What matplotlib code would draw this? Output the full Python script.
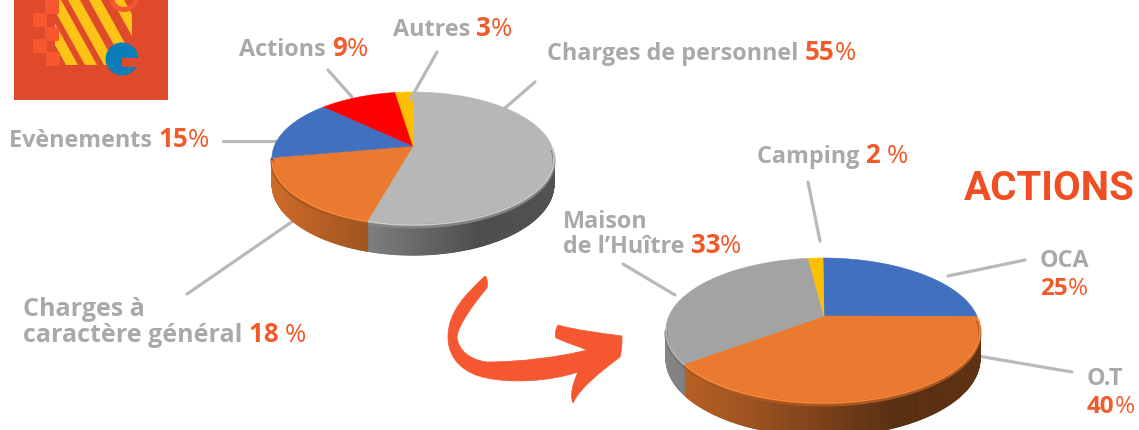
import numpy as np
import matplotlib
matplotlib.use('Agg')
import matplotlib.pyplot as plt
from matplotlib.patches import Polygon, Rectangle, Circle, PathPatch, Wedge
from matplotlib.path import Path

# slice shares as drawn in the picture (clockwise from 12 o'clock)
main_names = ['Charges de personnel', 'Charges à caractère général', 'Evènements', 'Actions', 'Autres']
main_shares = [55.2, 19.9, 14.0, 8.9, 2.0]
main_colors = ['#b7b7b7', '#e97a2f', '#4270c0', '#fe0000', '#fdbf00']

actions_names = ['OCA', 'O.T', 'Maison de l\'Huître', 'Camping']
actions_shares = [22.0, 45.2, 31.3, 1.5]
actions_colors = ['#4270c0', '#e97a2f', '#a3a3a3', '#fdbf00']

GREY = '#a9a9a9'
ORANGE = '#f15a29'
FONT = 'Open Sans'

fig = plt.figure(figsize=(11.39, 4.30), dpi=100)
ax = fig.add_axes([0, 0, 1, 1])
ax.set_xlim(0, 1139)
ax.set_ylim(430, 0)
ax.axis('off')


def shade(color, f):
    c = np.array(matplotlib.colors.to_rgb(color))
    return tuple(np.clip(c * f, 0, 1))


def ell(cx, cy, rx, ry, t):
    # t in degrees, clockwise from top
    t = np.radians(t)
    return cx + rx * np.sin(t), cy - ry * np.cos(t)


def draw_pie(shares, colors, cx, cy, rx, ry, apex, depth, light, mid, dark):
    edges = np.cumsum([0] + list(shares)) * 3.6
    # side wall, thin strips along the front of the ellipse
    for i, col in enumerate(colors):
        lo, hi = max(edges[i], 90), min(edges[i + 1], 270)
        if lo >= hi:
            continue
        ts = np.linspace(lo, hi, int(hi - lo) * 2 + 2)
        for t0, t1 in zip(ts[:-1], ts[1:]):
            x0, y0 = ell(cx, cy, rx, ry, t0)
            x1, y1 = ell(cx, cy, rx, ry, t1)
            u = (x0 + x1) / 2
            f = np.interp(u, [cx - rx, cx - 0.3 * rx, cx + 0.45 * rx, cx + rx], [light, mid, dark, dark + 0.03])
            # front of the wall looks a bit deeper than its ends
            d0 = depth * (0.88 - 0.16 * np.cos(np.radians(t0)))
            d1 = depth * (0.88 - 0.16 * np.cos(np.radians(t1)))
            ax.add_patch(Polygon([(x0, y0), (x1, y1), (x1, y1 + d1), (x0, y0 + d0)],
                                 closed=True, fc=shade(col, f), ec=shade(col, f), lw=0.6, zorder=2))
    # top face
    for i, col in enumerate(colors):
        ts = np.linspace(edges[i], edges[i + 1], 120)
        xs, ys = ell(cx, cy, rx, ry, ts)
        pts = [apex] + list(zip(xs, ys))
        ax.add_patch(Polygon(pts, closed=True, fc=col, ec=col, lw=0.4, zorder=3))
    # bevel along the front rim
    for i, col in enumerate(colors):
        lo, hi = max(edges[i], 80), min(edges[i + 1], 272)
        if lo >= hi:
            continue
        ts = np.linspace(lo, hi, 80)
        xs, ys = ell(cx, cy, rx, ry, ts)
        for off, lw, f in [(3.0, 3.0, 0.72), (1.0, 1.6, 1.12)]:
            ax.plot(xs, ys + off, color=shade(col, f), lw=lw * 0.72, zorder=4, solid_capstyle='butt')


def runs(x, y, parts, grey_size=16.8, num_size=18.6):
    # several text runs on one baseline, each starting where the last one ended
    r = fig.canvas.get_renderer()
    for s, col, w in parts:
        size = grey_size if col == GREY else num_size
        t = ax.text(x, y, s, color=col, fontsize=size, fontweight=w, family=FONT, va='baseline', ha='left', zorder=6)
        box = t.get_window_extent(r)
        x = ax.transData.inverted().transform((box.x1, 0))[0]


# logo
ax.add_patch(Rectangle((14, 0), 154, 100, fc='#df4b2a', ec='none', zorder=1))
clip = Rectangle((55, 0), 77, 65, transform=ax.transData)
for x0 in [30, 49, 68, 89, 112]:
    stripe = ax.add_patch(Polygon([(x0, 0), (x0 + 12, 0), (x0 + 48, 65), (x0 + 36, 65)], closed=True,
                                  fc='#fdc316', ec='none', zorder=1.5))
    stripe.set_clip_path(clip)
for sx, sy in [(45, 0), (33, 13), (45, 27), (33, 39), (46, 52)]:
    ax.add_patch(Rectangle((sx, sy), 14, 13.5, fc='#f7562f', ec='none', zorder=1.6))
ax.add_patch(Wedge((124, -3), 15, 0, 180, width=5, fc='#f7562f', ec='none', zorder=1.7))
ax.add_patch(Circle((122, 59), 16.5, fc='#0b7db8', ec='none', zorder=1.8))
ax.add_patch(Rectangle((122, 58), 17, 9, fc='#df4b2a', ec='none', zorder=1.9))

# leader lines, under the pies
leaders = [((328, 70), (352, 97)), ((437, 52), (410, 100)), ((535, 82), (505, 108)),
           ((223, 141), (276, 141)), ((187, 294), (293, 221)), ((808, 182), (820, 241)),
           ((623, 264), (675, 295)), ((948, 276), (1025, 260)), ((978, 356), (1072, 372))]
for (a, b) in leaders[:1] + leaders[2:]:
    ax.plot([a[0], b[0]], [a[1], b[1]], color='#b9b9b9', lw=2.3, zorder=1, solid_capstyle='round')

draw_pie(main_shares, main_colors, 413, 158, 141, 66, (413, 146), 30, 0.88, 0.68, 0.42)
draw_pie(actions_shares, actions_colors, 823, 330, 157, 72, (824, 316), 33, 0.82, 0.62, 0.38)
a, b = leaders[1]
ax.plot([a[0], b[0]], [a[1], b[1]], color='#b9b9b9', lw=2.3, zorder=5, solid_capstyle='round')

# hand drawn arrow
start = (485, 276)
segments = [
    [(465, 295), (448, 312), (448, 337)],
    [(448, 360), (465, 374), (487, 378)],
    [(510, 383), (548, 382), (578, 372)],
    [(572, 385), (570, 396), (573, 403)],
    [(580, 388), (600, 372), (620, 357)],
    [(622, 350), (622, 343), (622, 336)],
    [(600, 333), (575, 330), (558, 325)],
    [(555, 330), (555, 335), (556, 338)],
    [(570, 344), (580, 347), (587, 350)],
    [(560, 357), (520, 362), (487, 362)],
    [(470, 360), (458, 350), (457, 337)],
    [(458, 325), (475, 302), (487, 288)],
    [(488, 282), (487, 277), (485, 276)],
]
arrow_pts = [start]
codes = [Path.MOVETO]
for seg in segments:
    arrow_pts += seg
    codes += [Path.CURVE4] * 3
ax.add_patch(PathPatch(Path(arrow_pts, codes), fc='#f55731', ec='#f55731', lw=0.5, zorder=2))

# labels
runs(393, 36, [('Autres ', GREY, 'bold'), ('3', ORANGE, 'bold'), ('%', ORANGE, 'normal')])
runs(239, 56, [('Actions ', GREY, 'bold'), ('9', ORANGE, 'bold'), ('%', ORANGE, 'normal')])
runs(547, 60, [('Charges de personnel ', GREY, 'bold'), ('55', ORANGE, 'bold'), ('%', ORANGE, 'normal')])
runs(9, 147, [('Evènements ', GREY, 'bold'), ('15', ORANGE, 'bold'), ('%', ORANGE, 'normal')])
runs(23, 316, [('Charges à', GREY, 'bold')], grey_size=18)
runs(23, 342, [('caractère général ', GREY, 'bold'), ('18 ', ORANGE, 'bold'), ('%', ORANGE, 'normal')], grey_size=18)
runs(757, 163, [('Camping ', GREY, 'bold'), ('2 ', ORANGE, 'bold'), ('%', ORANGE, 'normal')])
runs(563, 228, [('Maison', GREY, 'bold')])
runs(563, 253, [('de l’Huître ', GREY, 'bold'), ('33', ORANGE, 'bold'), ('%', ORANGE, 'normal')])
runs(1040, 267, [('OCA', GREY, 'bold')])
runs(1040, 295, [('25', ORANGE, 'bold'), ('%', ORANGE, 'normal')], num_size=17.5)
runs(1087, 385, [('O.T', GREY, 'bold')])
runs(1087, 413, [('40', ORANGE, 'bold'), ('%', ORANGE, 'normal')], num_size=17.5)
ax.text(964, 200, 'ACTIONS', color='#f04e23', fontsize=29, fontweight='bold', family='Roboto', va='baseline', zorder=6)

fig.savefig('out.png', dpi=100)
